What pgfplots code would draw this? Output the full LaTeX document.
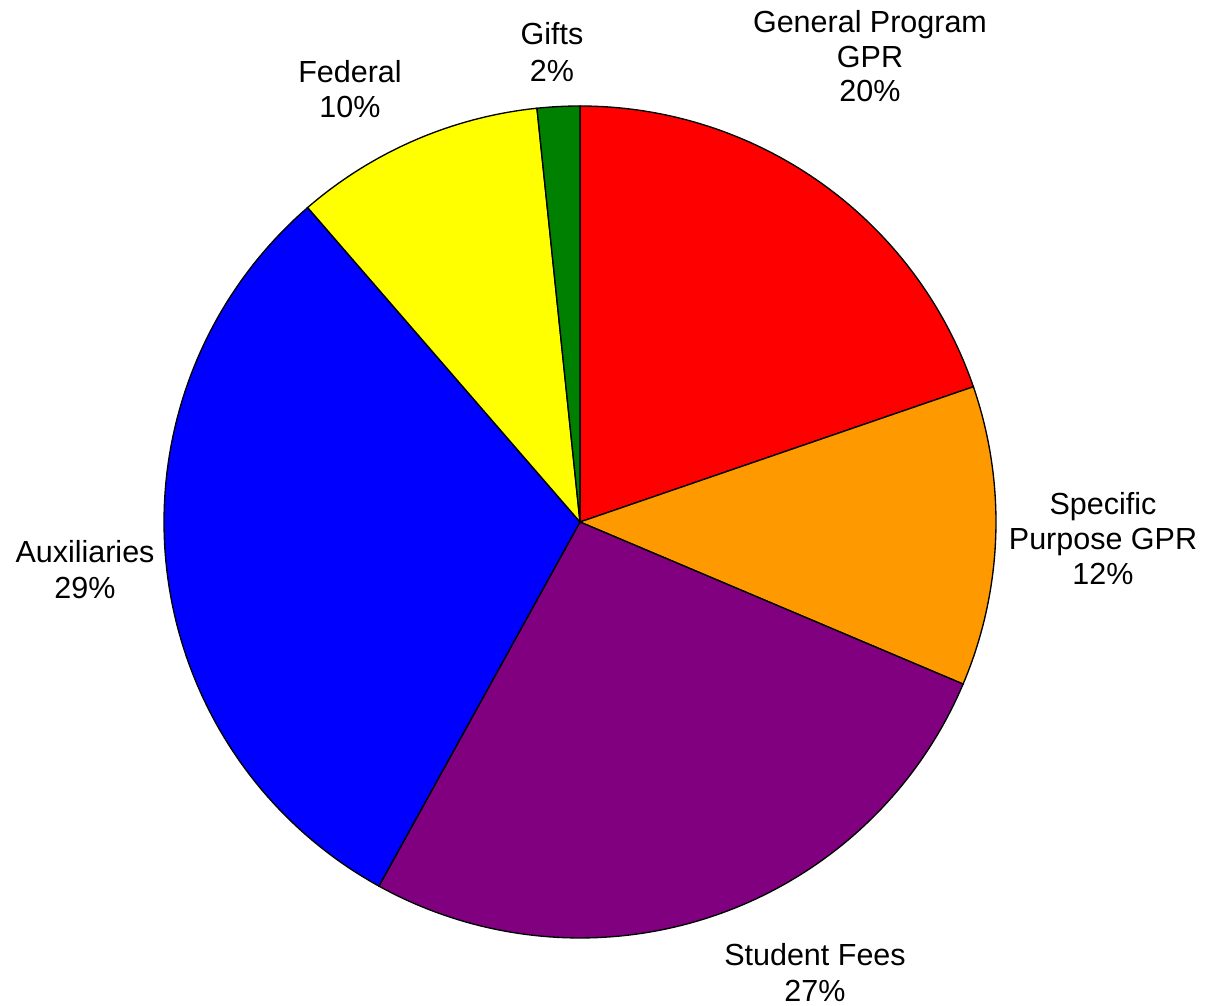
\documentclass[border=0pt]{standalone}
\usepackage{fontspec}
\setmainfont{Liberation Sans}
\usepackage{pgfplots}
\pgfplotsset{compat=1.18}
% shares in percent, clockwise from 12 o'clock
\def\pA{19.73}% General Program GPR
\def\pB{11.64}% Specific Purpose GPR
\def\pC{26.66}% Student Fees
\def\pD{30.61}% Auxiliaries
\def\pE{9.71}%  Federal
\def\pF{1.65}%  Gifts
\pgfmathsetmacro\aO{90}
\pgfmathsetmacro\aA{\aO-3.6*\pA}
\pgfmathsetmacro\aB{\aA-3.6*\pB}
\pgfmathsetmacro\aC{\aB-3.6*\pC}
\pgfmathsetmacro\aD{\aC-3.6*\pD}
\pgfmathsetmacro\aE{\aD-3.6*\pE}
\pgfmathsetmacro\aF{\aE-3.6*\pF}
\definecolor{cA}{RGB}{255,0,0}
\definecolor{cB}{RGB}{255,153,0}
\definecolor{cC}{RGB}{128,0,128}
\definecolor{cD}{RGB}{0,0,255}
\definecolor{cE}{RGB}{255,255,0}
\definecolor{cF}{RGB}{0,128,0}
\tikzset{lbl/.style={font=\fontsize{9.15}{11}\selectfont, anchor=base, inner sep=0pt}}
\newcommand\slice[3]{%
  \addplot[draw=black, line width=0.4pt, fill=#3, domain=#1:#2, samples=90, variable=\t]
    ({580+416*cos(\t)},{484+416*sin(\t)}) -- (axis cs:580,484) -- cycle;}
\begin{document}
\begin{tikzpicture}
\begin{axis}[hide axis, scale only axis, x=0.3pt, y=0.3pt,
  xmin=0, xmax=1217, ymin=0, ymax=1006, clip=false]
\path (rel axis cs:0,0) rectangle (rel axis cs:1,1);
\slice{\aO}{\aA}{cA}
\slice{\aA}{\aB}{cB}
\slice{\aB}{\aC}{cC}
\slice{\aC}{\aD}{cD}
\slice{\aD}{\aE}{cE}
\slice{\aE}{\aF}{cF}
\node[lbl] at (axis cs:870,973) {General Program};
\node[lbl] at (axis cs:870,938) {GPR};
\node[lbl] at (axis cs:870,904) {20\%};
\node[lbl] at (axis cs:552,961) {Gifts};
\node[lbl] at (axis cs:552,924) {2\%};
\node[lbl] at (axis cs:350,923) {Federal};
\node[lbl] at (axis cs:350,888) {10\%};
\node[lbl] at (axis cs:1103,491) {Specific};
\node[lbl] at (axis cs:1103,456) {Purpose GPR};
\node[lbl] at (axis cs:1103,421) {12\%};
\node[lbl] at (axis cs:85,443) {Auxiliaries};
\node[lbl] at (axis cs:85,407) {29\%};
\node[lbl] at (axis cs:815,40) {Student Fees};
\node[lbl] at (axis cs:815,4) {27\%};
\end{axis}
\end{tikzpicture}
\end{document}
